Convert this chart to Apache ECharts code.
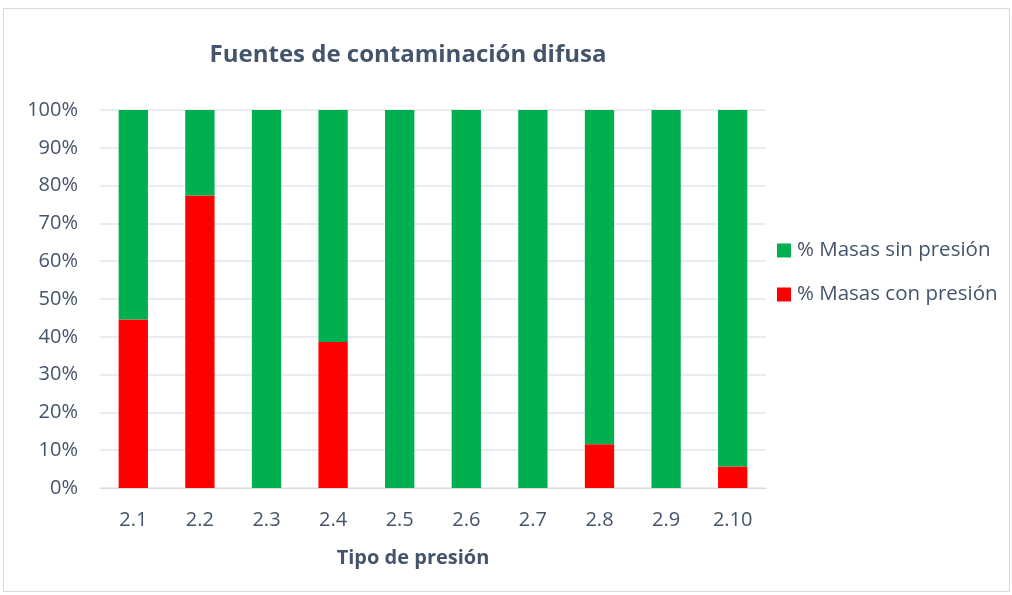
<!DOCTYPE html>
<html>
<head>
<meta charset="utf-8">
<script src="https://cdn.jsdelivr.net/npm/echarts@6/dist/echarts.min.js"></script>
<style>
  html, body { margin: 0; padding: 0; background: #fff; }
  #chart { width: 1012px; height: 595px; }
</style>
</head>
<body>
<div id="chart"></div>
<script>
// Pressure types on the x axis
const categories = ['2.1', '2.2', '2.3', '2.4', '2.5', '2.6', '2.7', '2.8', '2.9', '2.10'];
// Share of water bodies under pressure (%)
const conPresion = [44.6, 77.4, 0, 38.6, 0, 0, 0, 11.6, 0, 5.7];
// Share of water bodies without pressure (%)
const sinPresion = [55.4, 22.6, 100, 61.4, 100, 100, 100, 88.4, 100, 94.3];
const yTicks = [0, 10, 20, 30, 40, 50, 60, 70, 80, 90, 100];

const textColor = '#44546A';
const font = 'Open Sans';

const chart = echarts.init(document.getElementById('chart'));
chart.setOption({
  animation: false,
  graphic: [{
    type: 'rect',
    shape: { x: 3.5, y: 8.5, width: 1006, height: 583 },
    style: { fill: 'none', stroke: '#d9d9d9', lineWidth: 1 },
    silent: true
  }],
  title: {
    text: 'Fuentes de contaminación difusa',
    left: 403, top: 38, textAlign: 'center',
    textStyle: { fontFamily: font, fontSize: 24, fontWeight: 'bold', color: textColor }
  },
  legend: {
    orient: 'vertical',
    left: 777, top: 240,
    padding: 0,
    itemGap: 23,
    itemWidth: 14, itemHeight: 14,
    icon: 'rect',
    data: ['% Masas sin presión', '% Masas con presión'],
    textStyle: { fontFamily: font, fontSize: 20.5, color: textColor, padding: [0, 0, 0, 1] }
  },
  grid: { left: 100, right: 246, top: 110, bottom: 107, containLabel: false },
  xAxis: {
    type: 'category',
    data: categories,
    name: 'Tipo de presión',
    nameLocation: 'middle',
    nameGap: 60,
    nameTextStyle: {
      fontFamily: font, fontSize: 20, fontWeight: 'bold', color: textColor,
      padding: [0, 40, 0, 0]
    },
    axisLine: { show: true, lineStyle: { color: '#d9d9d9' } },
    axisTick: { show: false },
    axisLabel: { fontFamily: font, fontSize: 20, color: textColor, margin: 22 }
  },
  yAxis: {
    type: 'value',
    min: 0, max: 100, interval: 10,
    axisLine: { show: false },
    axisTick: { show: false },
    splitLine: { lineStyle: { color: '#e3e6ea', width: 1.5 } },
    axisLabel: {
      fontFamily: font, fontSize: 20, color: textColor, margin: 22,
      formatter: v => (yTicks.includes(v) ? v + '%' : '')
    }
  },
  series: [
    {
      name: '% Masas con presión', type: 'bar', stack: 'total',
      data: conPresion, barCategoryGap: '56%',
      itemStyle: { color: '#FF0000' }
    },
    {
      name: '% Masas sin presión', type: 'bar', stack: 'total',
      data: sinPresion, barCategoryGap: '56%',
      itemStyle: { color: '#00B050' }
    }
  ]
});
</script>
</body>
</html>
